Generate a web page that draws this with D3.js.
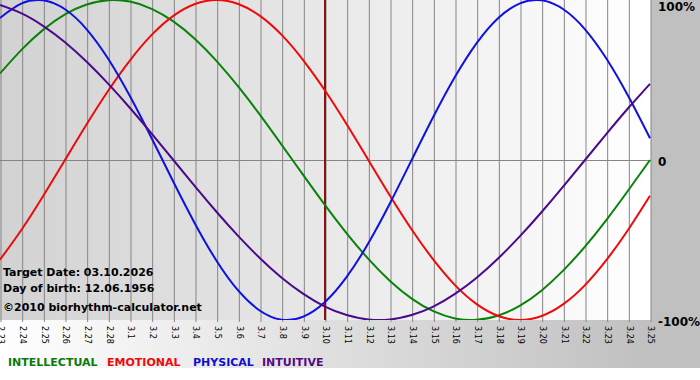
<!DOCTYPE html>
<html>
<head>
<meta charset="utf-8">
<script src="https://cdn.jsdelivr.net/npm/d3@7"></script>
<style>
  html, body { margin: 0; padding: 0; background: #fff; }
  svg { display: block; }
</style>
</head>
<body>
<svg id="chart" width="700" height="380"></svg>
<script>
const dates = ["2.23","2.24","2.25","2.26","2.27","2.28","3.1","3.2","3.3","3.4","3.5","3.6","3.7","3.8","3.9","3.10","3.11","3.12","3.13","3.14","3.15","3.16","3.17","3.18","3.19","3.20","3.21","3.22","3.23","3.24","3.25"];
const physical = [88.8, 97.9, 99.8, 94.2, 81.7, 63.1, 39.8, 13.6, -13.6, -39.8, -63.1, -81.7, -94.2, -99.8, -97.9, -88.8, -73.1, -52.0, -27.0, 0, 27.0, 52.0, 73.1, 88.8, 97.9, 99.8, 94.2, 81.7, 63.1, 39.8, 13.6];
const emotional = [-62.3, -43.4, -22.3, 0, 22.3, 43.4, 62.3, 78.2, 90.1, 97.5, 100, 97.5, 90.1, 78.2, 62.3, 43.4, 22.3, 0, -22.3, -43.4, -62.3, -78.2, -90.1, -97.5, -100, -97.5, -90.1, -78.2, -62.3, -43.4, -22.3];
const intellectual = [54.1, 69.0, 81.5, 91.0, 97.2, 99.9, 99.0, 94.5, 86.6, 75.6, 61.8, 45.8, 28.2, 9.5, -9.5, -28.2, -45.8, -61.8, -75.6, -86.6, -94.5, -99.0, -99.9, -97.2, -91.0, -81.5, -69.0, -54.1, -37.2, -18.9, 0];
const intuitive = [96.9, 91.6, 83.7, 73.6, 61.4, 47.6, 32.5, 16.5, 0, -16.5, -32.5, -47.6, -61.4, -73.6, -83.7, -91.6, -96.9, -99.7, -99.7, -96.9, -91.6, -83.7, -73.6, -61.4, -47.6, -32.5, -16.5, 0, 16.5, 32.5, 47.6];
const targetDate = "3.10";
const yTicks = [100, 0, -100];
const seriesNames = ["INTELLECTUAL", "EMOTIONAL", "PHYSICAL", "INTUITIVE"];
const infoLines = ["Target Date: 03.10.2026", "Day of birth: 12.06.1956", "©2010 biorhythm-calculator.net"];

const svg = d3.select("#chart");
const W = 700, H = 380;
const plotW = 651, plotH = 320;
const FONT = "'DejaVu Sans', Verdana, sans-serif";

const defs = svg.append("defs");
const g1 = defs.append("linearGradient").attr("id", "outerGrad").attr("x1", "0").attr("x2", "1").attr("y1", "0").attr("y2", "0");
g1.append("stop").attr("offset", "0").attr("stop-color", "#ffffff");
g1.append("stop").attr("offset", "0.93").attr("stop-color", "#c0c0c0");
g1.append("stop").attr("offset", "1").attr("stop-color", "#c0c0c0");
const g2 = defs.append("linearGradient").attr("id", "plotGrad").attr("x1", "0").attr("x2", "1").attr("y1", "0").attr("y2", "0");
g2.append("stop").attr("offset", "0").attr("stop-color", "#d2d2d2");
g2.append("stop").attr("offset", "1").attr("stop-color", "#ffffff");
defs.append("clipPath").attr("id", "plotClip").append("rect").attr("x", 0).attr("y", 0).attr("width", plotW).attr("height", plotH);

svg.append("rect").attr("width", W).attr("height", H).attr("fill", "#ffffff");
svg.append("rect").attr("width", W).attr("height", 368).attr("fill", "url(#outerGrad)");
svg.append("rect").attr("width", plotW).attr("height", plotH).attr("fill", "url(#plotGrad)");

const x = d3.scalePoint().domain(dates).range([0, 650]);
const y = d3.scaleLinear().domain([-100, 100]).range([320, 0]);

// vertical grid + rotated labels
const xAxis = svg.append("g").attr("transform", "translate(0.5,0)")
  .call(d3.axisBottom(x).tickSize(322).tickPadding(0));
xAxis.select(".domain").remove();
xAxis.selectAll(".tick line").attr("stroke", "#858585");
xAxis.selectAll(".tick text")
  .attr("y", 0).attr("x", 0).attr("dy", "0.35em")
  .attr("transform", "translate(0,326) rotate(90)")
  .style("text-anchor", "start")
  .style("font-family", FONT).style("font-size", "8px").attr("fill", "#000");

// zero line
svg.append("line").attr("x1", 0).attr("x2", plotW).attr("y1", Math.round(y(0)) + 0.5).attr("y2", Math.round(y(0)) + 0.5)
  .attr("stroke", "#858585").attr("stroke-width", 1);

// target line
svg.append("line").attr("x1", x(targetDate)).attr("x2", x(targetDate)).attr("y1", 0).attr("y2", plotH)
  .attr("stroke", "#8b1010").attr("stroke-width", 2);

// curves
const line = d3.line().x((d, i) => x(dates[i])).y(d => y(d)).curve(d3.curveNatural);
const curves = [
  { v: intellectual, c: "#0a820a" },
  { v: emotional, c: "#ee0a0a" },
  { v: physical, c: "#1010e0" },
  { v: intuitive, c: "#4b0a8a" }
];
const cg = svg.append("g").attr("clip-path", "url(#plotClip)");
curves.forEach(s => {
  cg.append("path").datum(s.v).attr("d", line).attr("fill", "none")
    .attr("stroke", s.c).attr("stroke-width", 2);
});

// right labels
svg.selectAll(".ylab").data(yTicks).enter().append("text")
  .attr("x", 658).attr("y", d => Math.max(y(d) + 6, 11))
  .text(d => d === 0 ? "0" : d + "%")
  .style("font-family", FONT).style("font-size", "12px").style("font-weight", "bold").attr("fill", "#000");

// info text
const infoY = [276, 291.5, 311];
svg.selectAll(".info").data(infoLines).enter().append("text")
  .attr("x", 3).attr("y", (d, i) => infoY[i]).text(d => d)
  .style("font-family", FONT).style("font-size", "11px").style("font-weight", "bold").attr("fill", "#000");

// legend
const legColors = ["#0a7a0a", "#ee0a0a", "#1010d0", "#550a80"];
const legX = [8, 107, 193, 262];
svg.selectAll(".leg").data(seriesNames).enter().append("text")
  .attr("x", (d, i) => legX[i]).attr("y", 366).text(d => d)
  .style("font-family", FONT).style("font-size", "11px").style("font-weight", "bold")
  .attr("fill", (d, i) => legColors[i]);
</script>
</body>
</html>
